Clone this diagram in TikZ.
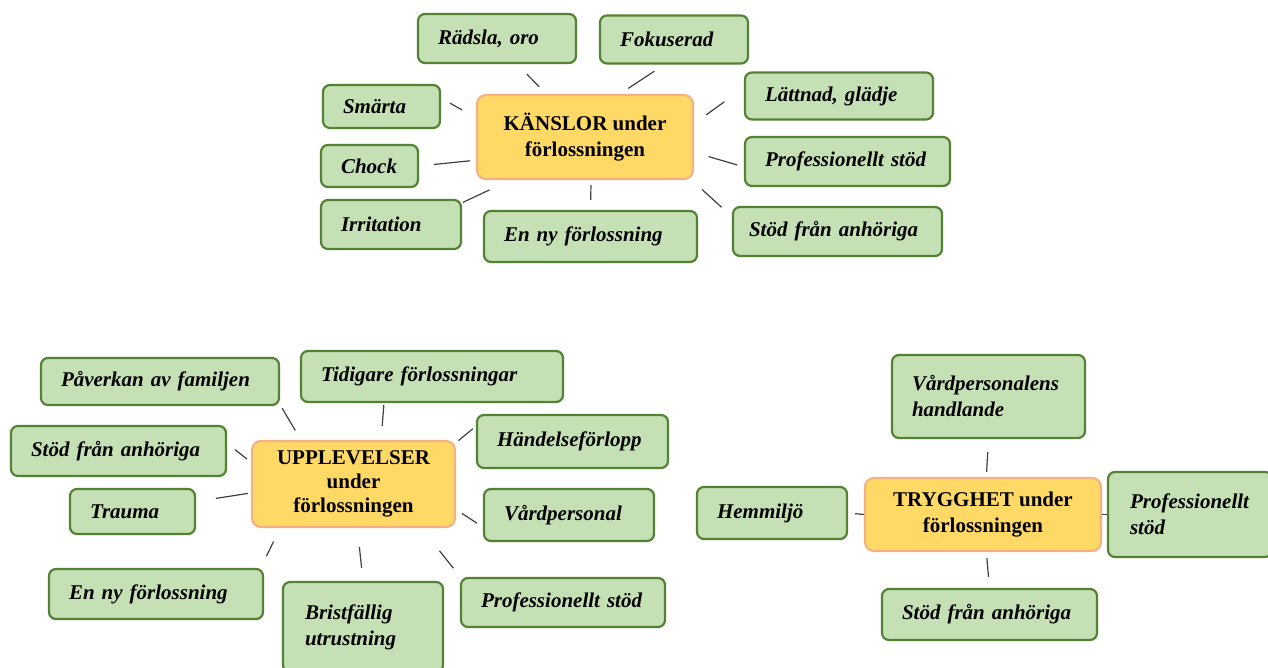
\documentclass[tikz,border=0pt]{standalone}
\usepackage{fontspec}
\setmainfont{Liberation Serif}
\usepackage{tikz}
\definecolor{leaffill}{RGB}{197, 224, 180}
\definecolor{leafline}{RGB}{84, 130, 53}
\definecolor{hubfill}{RGB}{255, 217, 102}
\definecolor{hubline}{RGB}{244, 177, 131}
\definecolor{linkcol}{RGB}{64, 64, 64}

\begin{document}
\begin{tikzpicture}[
leaf/.style={rectangle, rounded corners=7pt, fill=leaffill, draw=leafline, line width=2.2pt, inner xsep=20pt, inner ysep=0pt, align=left, font=\bfseries\itshape\fontsize{21}{26}\selectfont},
hub/.style={rectangle, rounded corners=9pt, fill=hubfill, draw=hubline, line width=2.2pt, inner sep=0pt, align=center, font=\bfseries\fontsize{21}{26}\selectfont},
link/.style={line width=1.2pt, color=linkcol}]
\clip (0pt, 0pt) rectangle (1268pt, -668pt);
% KANSLOR
\node (kanslor) [hub, minimum width=216pt, minimum height=84pt] at (585.0pt, -137.0pt) {KÄNSLOR under\\förlossningen};
\node (radsla) [leaf, text width=118pt, minimum height=49pt] at (497.0pt, -38.5pt) {Rädsla, oro};
\node (fokus) [leaf, text width=108pt, minimum height=48pt] at (674.0pt, -39.5pt) {Fokuserad};
\node (lattnad) [leaf, text width=148pt, minimum height=47pt] at (839.0pt, -96.0pt) {Lättnad, glädje};
\node (profK) [leaf, text width=165pt, minimum height=49pt] at (847.5pt, -161.5pt) {Professionellt stöd};
\node (stodK) [leaf, text width=177pt, minimum height=49pt, inner xsep=16pt] at (837.5pt, -231.5pt) {Stöd från anhöriga};
\node (nyK) [leaf, text width=173pt, minimum height=51pt] at (590.5pt, -236.5pt) {En ny förlossning};
\node (irrit) [leaf, text width=100pt, minimum height=49pt] at (391.0pt, -224.5pt) {Irritation};
\node (chock) [leaf, text width=57pt, minimum height=42pt] at (369.5pt, -166.0pt) {Chock};
\node (smarta) [leaf, text width=77pt, minimum height=43pt] at (381.5pt, -106.5pt) {Smärta};
\draw [link, shorten <=10pt, shorten >=14pt] (kanslor.132) to (radsla.308);
\draw [link, shorten <=10pt, shorten >=12pt] (kanslor.51) to (fokus.249);
\draw [link, shorten <=15pt, shorten >=24pt] (kanslor.7) to (lattnad.175);
\draw [link, shorten <=15pt, shorten >=7pt] (kanslor.352) to (profK.183);
\draw [link, shorten <=14pt, shorten >=14pt] (kanslor.338) to (stodK.172);
\draw [link, shorten <=5pt, shorten >=10pt] (kanslor.278) to (nyK.north);
\draw [link, shorten <=23pt, shorten >=1pt] (kanslor.210) to (irrit.17);
\draw [link, shorten <=6pt, shorten >=15pt] (kanslor.192) to (chock.east);
\draw [link, shorten <=16pt, shorten >=10pt] (kanslor.170) to (smarta.8);
% UPPLEVELSER
\node (upplev) [hub, minimum width=203pt, minimum height=86pt, font=\bfseries\fontsize{21}{24}\selectfont] at (353.5pt, -484.0pt) {UPPLEVELSER\\under\\förlossningen};
\node (paverkan) [leaf, text width=198pt, minimum height=47pt] at (160.0pt, -381.5pt) {Påverkan av familjen};
\node (tidigare) [leaf, text width=222pt, minimum height=51pt] at (432.0pt, -376.5pt) {Tidigare förlossningar};
\node (handelse) [leaf, text width=151pt, minimum height=53pt] at (572.5pt, -441.5pt) {Händelseförlopp};
\node (stodU) [leaf, text width=175pt, minimum height=50pt] at (118.5pt, -451.0pt) {Stöd från anhöriga};
\node (trauma) [leaf, text width=85pt, minimum height=45pt] at (132.5pt, -511.5pt) {Trauma};
\node (vardpers) [leaf, text width=130pt, minimum height=52pt] at (569.0pt, -515.0pt) {Vårdpersonal};
\node (nyU) [leaf, text width=174pt, minimum height=50pt] at (156.0pt, -594.0pt) {En ny förlossning};
\node (brist) [leaf, text width=116pt, minimum height=90pt, inner xsep=22pt] at (363.0pt, -627.0pt) {Bristfällig\\utrustning};
\node (profU) [leaf, text width=164pt, minimum height=49pt] at (563.0pt, -602.5pt) {Professionellt stöd};
\draw [link, shorten <=11pt, shorten >=4pt] (upplev.140) to (paverkan.349);
\draw [link, shorten <=14pt, shorten >=2pt] (upplev.58) to (tidigare.209);
\draw [link, shorten <=3pt, shorten >=4pt] (upplev.22) to (handelse.171);
\draw [link, shorten <=5pt, shorten >=10pt] (upplev.168) to (stodU.4);
\draw [link, shorten <=3pt, shorten >=20pt] (upplev.185) to (trauma.9);
\draw [link, shorten <=7pt, shorten >=7pt] (upplev.346) to (vardpers.188);
\draw [link, shorten <=15pt, shorten >=13pt] (upplev.211) to (nyU.14);
\draw [link, shorten <=19pt, shorten >=13pt] (upplev.275) to (brist.north);
\draw [link, shorten <=29pt, shorten >=11pt] (upplev.327) to (profU.166);
% TRYGGHET
\node (trygg) [hub, minimum width=236pt, minimum height=73pt] at (983.0pt, -514.5pt) {TRYGGHET under\\förlossningen};
\node (vardhand) [leaf, text width=153pt, minimum height=83pt, inner xsep=20pt] at (988.5pt, -396.5pt) {Vårdpersonalens\\handlande};
\node (hemmiljo) [leaf, text width=110pt, minimum height=52pt] at (772.0pt, -513.0pt) {Hemmiljö};
\node (profT) [leaf, text width=120pt, minimum height=85pt, inner xsep=22pt] at (1190.0pt, -514.5pt) {Professionellt\\stöd};
\node (stodT) [leaf, text width=175pt, minimum height=51pt] at (989.5pt, -614.5pt) {Stöd från anhöriga};
\draw [link, shorten <=5pt, shorten >=13pt] (trygg.85) to (vardhand.south);
\draw [link, shorten <=7pt] (hemmiljo.east) to (trygg.west);
\draw [link] (trygg.east) to (profT.west);
\draw [link, shorten <=6pt, shorten >=11pt] (trygg.275) to (stodT.north);
\end{tikzpicture}
\end{document}
